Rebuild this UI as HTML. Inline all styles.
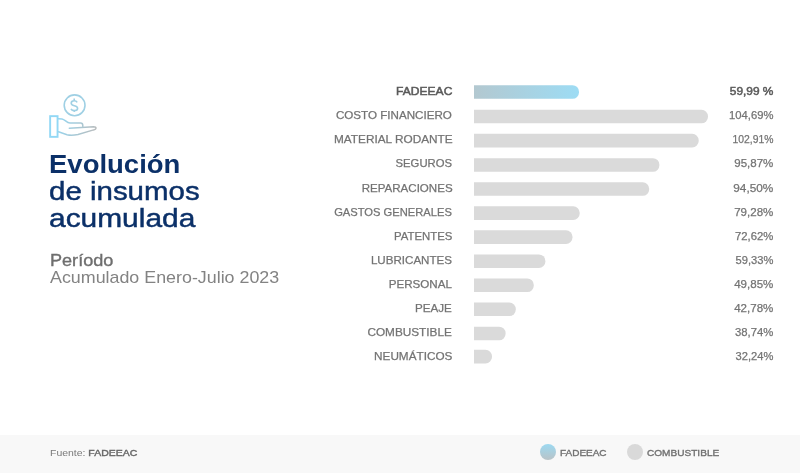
<!DOCTYPE html>
<html><head><meta charset="utf-8">
<style>
html,body{margin:0;padding:0;}
body{width:800px;height:473px;position:relative;overflow:hidden;background:#fff;font-family:"Liberation Sans",sans-serif;}
.abs{position:absolute;white-space:nowrap;}
.t{color:#0b3068;font-size:25px;line-height:27px;left:50px;transform-origin:0 50%;}
.lab{position:absolute;right:347.8px;transform-origin:100% 50%;font-size:11px;color:#737373;-webkit-text-stroke:0.25px #737373;line-height:12px;white-space:nowrap;}
.val{position:absolute;right:27px;transform-origin:100% 50%;font-size:11px;color:#737373;-webkit-text-stroke:0.25px #737373;line-height:12px;white-space:nowrap;}
.bar{position:absolute;left:474px;height:13.8px;background:#dadada;border-radius:0 7px 7px 0;}
.foot{position:absolute;left:0;top:435px;width:800px;height:38px;background:#f8f8f8;}
</style></head><body><div style="position:absolute;left:0;top:0;width:800px;height:473px;will-change:transform;">
<svg class="abs" style="left:0;top:0" width="120" height="150" viewBox="0 0 120 150">
<defs>
<linearGradient id="g1" gradientUnits="userSpaceOnUse" x1="58" y1="119" x2="97" y2="133">
<stop offset="0" stop-color="#95d6f1"/><stop offset="0.55" stop-color="#a9c8d4"/><stop offset="1" stop-color="#bababa"/>
</linearGradient>
</defs>
<circle cx="74.6" cy="105.3" r="10.4" fill="none" stroke="#9fd0e4" stroke-width="1.6"/>
<path d="M77.2 102.3 C76.6 101.3 75.6 100.8 74.2 100.8 C72.4 100.8 71.2 101.8 71.2 103.2 C71.2 106.5 77.6 104.8 77.6 108.2 C77.6 109.7 76.2 110.6 74.3 110.6 C72.8 110.6 71.6 110 71 108.8 M74.2 98.6 V100.8 M74.2 110.6 V112" fill="none" stroke="#9fd0e4" stroke-width="1.6"/>
<rect x="50.15" y="116.15" width="7.4" height="20.7" fill="none" stroke="#92d8f5" stroke-width="1.9"/>
<path d="M58.5 118.8 L62 118.9 C65 119.2 66.5 123.1 70 123.1 L80.6 123.1 C82 123.1 82.8 124.3 82.8 125.5 L82.8 126.6" fill="none" stroke="url(#g1)" stroke-width="1.5" stroke-linecap="round"/>
<path d="M69.3 128.2 L93.5 126.8 C95 126.8 96 127.5 96 128.3 C96 129.1 95.2 129.6 93.6 129.9 L78 134.5 C74 135.4 70 135.5 67 134.8 L58.5 131.8" fill="none" stroke="url(#g1)" stroke-width="1.5" stroke-linecap="round"/>
</svg>

<div class="abs t" style="left:48.5px;top:151px;font-weight:bold;transform:scaleX(1.10);">Evolución</div>
<div class="abs t" style="left:49px;top:177.5px;font-size:26px;-webkit-text-stroke:0.45px #0b3068;transform:scaleX(1.133);">de insumos</div>
<div class="abs t" style="left:48.5px;top:205px;font-size:26px;-webkit-text-stroke:0.45px #0b3068;transform:scaleX(1.15);">acumulada</div>

<div class="abs" style="left:50px;top:252px;font-size:16px;color:#6e6e6e;-webkit-text-stroke:0.35px #6e6e6e;transform-origin:0 50%;transform:scaleX(1.13);">Período</div>
<div class="abs" style="left:50px;top:267.8px;font-size:17px;color:#838383;transform-origin:0 50%;transform:scaleX(1.05);">Acumulado Enero-Julio 2023</div>

<div class="lab" style="top:85.30px;color:#5a5a5a;-webkit-text-stroke:0.5px #5a5a5a;transform:scaleX(1.095);">FADEEAC</div>
<div class="lab" style="top:109.35px;transform:scaleX(1.055);">COSTO FINANCIERO</div>
<div class="lab" style="top:133.40px;transform:scaleX(1.072);">MATERIAL RODANTE</div>
<div class="lab" style="top:157.45px;transform:scaleX(1.026);">SEGUROS</div>
<div class="lab" style="top:181.50px;transform:scaleX(1.050);">REPARACIONES</div>
<div class="lab" style="top:205.55px;transform:scaleX(1.016);">GASTOS GENERALES</div>
<div class="lab" style="top:229.60px;transform:scaleX(1.034);">PATENTES</div>
<div class="lab" style="top:253.65px;transform:scaleX(1.053);">LUBRICANTES</div>
<div class="lab" style="top:277.70px;transform:scaleX(1.056);">PERSONAL</div>
<div class="lab" style="top:301.75px;transform:scaleX(1.056);">PEAJE</div>
<div class="lab" style="top:325.80px;transform:scaleX(1.071);">COMBUSTIBLE</div>
<div class="lab" style="top:349.85px;transform:scaleX(1.067);">NEUMÁTICOS</div>


<svg class="abs" style="left:0;top:0" width="800" height="400" viewBox="0 0 800 400">
<defs><linearGradient id="bg1" gradientUnits="userSpaceOnUse" x1="474" y1="0" x2="579" y2="0"><stop offset="0" stop-color="#b3c8d0"/><stop offset="1" stop-color="#9ddcf4"/></linearGradient></defs>
<path d="M474 85.20 H572.50 A6.5 6.5 0 0 1 579.00 91.70 V92.30 A6.5 6.5 0 0 1 572.50 98.80 H474 Z" fill="url(#bg1)"/>
<path d="M474 109.75 H701.50 A6.5 6.5 0 0 1 708.00 116.25 V116.85 A6.5 6.5 0 0 1 701.50 123.35 H474 Z" fill="#dadada"/>
<path d="M474 133.80 H692.20 A6.5 6.5 0 0 1 698.70 140.30 V140.90 A6.5 6.5 0 0 1 692.20 147.40 H474 Z" fill="#dadada"/>
<path d="M474 158.20 H652.90 A6.5 6.5 0 0 1 659.40 164.70 V165.30 A6.5 6.5 0 0 1 652.90 171.80 H474 Z" fill="#dadada"/>
<path d="M474 182.25 H642.70 A6.5 6.5 0 0 1 649.20 188.75 V189.35 A6.5 6.5 0 0 1 642.70 195.85 H474 Z" fill="#dadada"/>
<path d="M474 206.30 H573.20 A6.5 6.5 0 0 1 579.70 212.80 V213.40 A6.5 6.5 0 0 1 573.20 219.90 H474 Z" fill="#dadada"/>
<path d="M474 230.35 H566.00 A6.5 6.5 0 0 1 572.50 236.85 V237.45 A6.5 6.5 0 0 1 566.00 243.95 H474 Z" fill="#dadada"/>
<path d="M474 254.40 H538.90 A6.5 6.5 0 0 1 545.40 260.90 V261.50 A6.5 6.5 0 0 1 538.90 268.00 H474 Z" fill="#dadada"/>
<path d="M474 278.45 H527.30 A6.5 6.5 0 0 1 533.80 284.95 V285.55 A6.5 6.5 0 0 1 527.30 292.05 H474 Z" fill="#dadada"/>
<path d="M474 302.50 H509.30 A6.5 6.5 0 0 1 515.80 309.00 V309.60 A6.5 6.5 0 0 1 509.30 316.10 H474 Z" fill="#dadada"/>
<path d="M474 326.70 H499.10 A6.5 6.5 0 0 1 505.60 333.20 V333.80 A6.5 6.5 0 0 1 499.10 340.30 H474 Z" fill="#dadada"/>
<path d="M474 349.85 H485.50 A6.5 6.5 0 0 1 492.00 356.35 V356.95 A6.5 6.5 0 0 1 485.50 363.45 H474 Z" fill="#dadada"/>
</svg>
<div class="val" style="top:85.30px;color:#5a5a5a;-webkit-text-stroke:0.5px #5a5a5a;transform:scaleX(1.080);">59,99 %</div>
<div class="val" style="top:109.35px;transform:scaleX(1.021);">104,69%</div>
<div class="val" style="top:133.40px;transform:scaleX(0.942);">102,91%</div>
<div class="val" style="top:157.45px;transform:scaleX(1.046);">95,87%</div>
<div class="val" style="top:181.50px;transform:scaleX(1.073);">94,50%</div>
<div class="val" style="top:205.55px;transform:scaleX(1.049);">79,28%</div>
<div class="val" style="top:229.60px;transform:scaleX(1.027);">72,62%</div>
<div class="val" style="top:253.65px;transform:scaleX(1.014);">59,33%</div>
<div class="val" style="top:277.70px;transform:scaleX(1.049);">49,85%</div>
<div class="val" style="top:301.75px;transform:scaleX(1.049);">42,78%</div>
<div class="val" style="top:325.80px;transform:scaleX(1.027);">38,74%</div>
<div class="val" style="top:349.85px;transform:scaleX(1.014);">32,24%</div>

<div class="foot"></div>
<div class="abs" style="left:49.5px;top:446.6px;font-size:9.6px;color:#7a7a7a;transform-origin:0 50%;transform:scaleX(1.09);">Fuente: <span style="color:#666;-webkit-text-stroke:0.4px #666;">FADEEAC</span></div>
<div class="abs" style="left:539.5px;top:444px;width:16px;height:16px;border-radius:50%;background:linear-gradient(180deg,#9cd9f1,#b9c3c7);"></div>
<div class="abs" style="left:560px;top:446.8px;font-size:9.6px;color:#707070;-webkit-text-stroke:0.35px #707070;transform-origin:0 50%;transform:scaleX(1.04);">FADEEAC</div>
<div class="abs" style="left:627px;top:444px;width:16px;height:16px;border-radius:50%;background:#d9d9d9;"></div>
<div class="abs" style="left:647px;top:446.8px;font-size:9.6px;color:#707070;-webkit-text-stroke:0.35px #707070;transform-origin:0 50%;transform:scaleX(1.05);">COMBUSTIBLE</div>
</div></body></html>
